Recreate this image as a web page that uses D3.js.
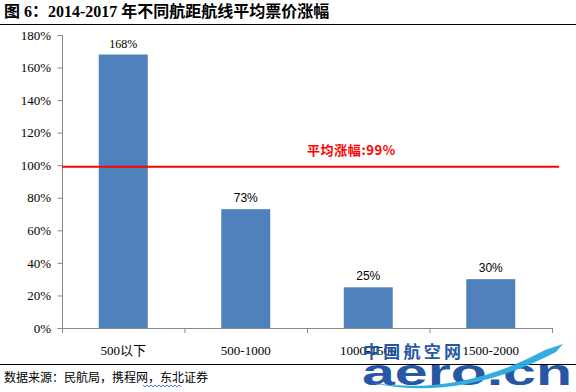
<!DOCTYPE html>
<html>
<head>
<meta charset="utf-8">
<script src="https://cdn.jsdelivr.net/npm/d3@7"></script>
<style>
body { margin: 0; background: #fff; }
svg { display: block; }
</style>
</head>
<body>
<svg width="576" height="392"></svg>
<script>
var categories = ["500以下", "500-1000", "1000-1500", "1500-2000"];
var values = [168, 73, 25, 30];
var valueLabels = ["168%", "73%", "25%", "30%"];
var yTicks = [0, 20, 40, 60, 80, 100, 120, 140, 160, 180];
var averageValue = 99;
var averageLabel = "平均涨幅:99%";

var serif = "'Liberation Serif', 'Noto Sans CJK SC', serif";
var cjk = "'Noto Sans CJK SC', sans-serif";

var margin = { top: 35, right: 24, bottom: 62, left: 62 };
var width = 576 - margin.left - margin.right;
var height = 392 - margin.top - margin.bottom;

var svg = d3.select("svg");

// title and rules
svg.append("text")
    .attr("x", 4).attr("y", 17)
    .attr("font-family", serif)
    .attr("font-weight", "bold")
    .attr("font-size", 16)
    .attr("xml:space", "preserve")
    .text("图 6：2014-2017 年不同航距航线平均票价涨幅");

svg.append("line")
    .attr("x1", 0).attr("x2", 576).attr("y1", 24.5).attr("y2", 24.5)
    .attr("stroke", "#000").attr("stroke-width", 1);

svg.append("line")
    .attr("x1", 0).attr("x2", 576).attr("y1", 364.5).attr("y2", 364.5)
    .attr("stroke", "#000").attr("stroke-width", 1);

var g = svg.append("g")
    .attr("transform", "translate(" + margin.left + "," + margin.top + ")");

var x_scale = d3.scaleBand()
    .domain(categories)
    .range([0, 490])
    .paddingInner(0.6)
    .paddingOuter(0.3);

var y_scale = d3.scaleLinear()
    .domain([0, 180])
    .range([height - 2, 0]);

var y_axis = d3.axisLeft(y_scale)
    .tickValues(yTicks)
    .tickSize(5)
    .tickPadding(6)
    .tickFormat(function(d) { return d + "%"; });

var gy = g.append("g").call(y_axis);
gy.select(".domain").attr("stroke", "#888").attr("d", "M0.5," + y_scale(180) + "V" + y_scale(0));
gy.selectAll(".tick line").attr("stroke", "#888").attr("transform", "translate(0.5,0)");
gy.selectAll(".tick text")
    .attr("font-family", serif)
    .attr("font-size", 13)
    .attr("fill", "#000");

// x axis, ticks sit on the band boundaries
var bounds = d3.range(categories.length + 1).map(function(i) { return i * 490 / categories.length; });
var gx = g.append("g").attr("transform", "translate(0," + y_scale(0) + ")");
gx.append("line")
    .attr("x1", 0).attr("x2", 490).attr("y1", 0.5).attr("y2", 0.5)
    .attr("stroke", "#888");
gx.selectAll(".xt").data(bounds).enter().append("line")
    .attr("x1", function(d) { return d + 0.5; })
    .attr("x2", function(d) { return d + 0.5; })
    .attr("y1", 0).attr("y2", 5)
    .attr("stroke", "#888");
gx.selectAll(".xl").data(categories).enter().append("text")
    .attr("x", function(d) { return x_scale(d) + x_scale.bandwidth() / 2; })
    .attr("y", 27)
    .attr("text-anchor", "middle")
    .attr("font-family", serif)
    .attr("font-size", 13)
    .text(function(d) { return d; });

// bars
g.selectAll(".bar").data(values).enter().append("rect")
    .attr("x", function(d, i) { return x_scale(categories[i]); })
    .attr("y", function(d) { return y_scale(d); })
    .attr("width", x_scale.bandwidth())
    .attr("height", function(d) { return y_scale(0) - y_scale(d); })
    .attr("fill", "#4F81BD");

g.selectAll(".vl").data(values).enter().append("text")
    .attr("x", function(d, i) { return x_scale(categories[i]) + x_scale.bandwidth() / 2; })
    .attr("y", function(d) { return y_scale(d) - 7; })
    .attr("text-anchor", "middle")
    .attr("font-family", function(d, i) { return i == 0 ? serif : "'Liberation Sans', sans-serif"; })
    .attr("font-size", 12)
    .text(function(d, i) { return valueLabels[i]; });

// average line
g.append("line")
    .attr("x1", 0).attr("x2", 497)
    .attr("y1", y_scale(averageValue)).attr("y2", y_scale(averageValue))
    .attr("stroke", "#FF0000").attr("stroke-width", 2);

g.append("text")
    .attr("x", 245).attr("y", y_scale(averageValue) - 12)
    .attr("font-family", cjk)
    .attr("font-weight", "bold")
    .attr("font-size", 13)
    .attr("letter-spacing", 0.6)
    .attr("fill", "#FF0000")
    .text(averageLabel);

// source
svg.append("text")
    .attr("x", 4).attr("y", 382)
    .attr("font-family", cjk)
    .attr("font-size", 12)
    .text("数据来源：民航局，携程网，东北证券");

var wave = d3.range(0, 40, 2).map(function(d, i) { return [143 + d, 386 + (i % 2 ? 1 : -1)]; });
svg.append("path")
    .attr("d", d3.line()(wave))
    .attr("fill", "none").attr("stroke", "#3355dd").attr("stroke-width", 0.8);

// watermark (drawn over the chart, as in the original)
var wm = svg.append("g").attr("opacity", 0.95);
wm.append("text")
    .attr("x", 363).attr("y", 358)
    .attr("font-family", cjk).attr("font-weight", "bold")
    .attr("font-size", 17).attr("fill", "#1a4fa0")
    .attr("textLength", 98).attr("lengthAdjust", "spacing")
    .text("中国航空网");
wm.append("text")
    .attr("x", 362).attr("y", 385)
    .attr("font-family", "'Liberation Sans', sans-serif").attr("font-weight", "bold")
    .attr("font-size", 36).attr("fill", "#1a4fa0")
    .attr("textLength", 210).attr("lengthAdjust", "spacingAndGlyphs")
    .text("aero.cn");
wm.append("path")
    .attr("d", "M372,383 Q460,396 545,350 L563,344 L556,352 Q460,402 372,383 Z")
    .attr("fill", "#29a8e0");
</script>
</body>
</html>
